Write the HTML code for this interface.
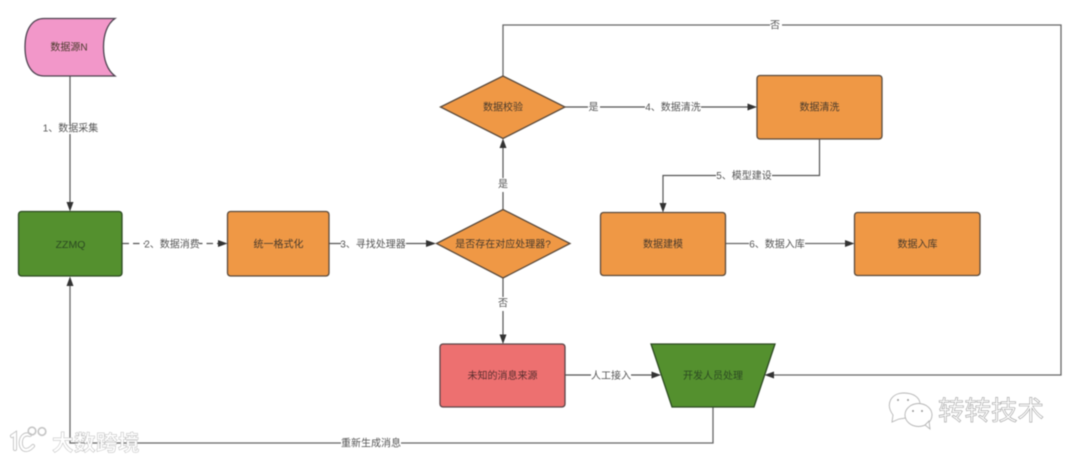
<!DOCTYPE html>
<html>
<head>
<meta charset="utf-8">
<style>
html,body{margin:0;padding:0;background:#fff;width:1080px;height:461px;overflow:hidden}
svg{display:block;filter:blur(.4px)}
text{font-family:"Liberation Sans","Noto Sans CJK SC",sans-serif;font-size:10px;text-anchor:middle;dominant-baseline:central}
.n{fill:#4a3b2c}
.l{fill:#555}
.s{fill:#ef9845;stroke:#5a4a3c;stroke-width:1.3}
.e{fill:none;stroke:#555;stroke-width:1.2}
.a{fill:#333;stroke:none}
.b{fill:#fff;stroke:none}
</style>
</head>
<body>
<svg width="1080" height="461" viewBox="0 0 1080 461" xmlns="http://www.w3.org/2000/svg">
<rect width="1080" height="461" fill="#fff"/>

<!-- connectors -->
<path class="e" d="M70 76V205"/>
<path class="e" d="M122.500 243.500H219" stroke-dasharray="6.500 4"/>
<path class="e" d="M329 243.500H430" style="stroke-width:1.3"/>
<path class="e" d="M503 209V144"/>
<path class="e" d="M565 107H751"/>
<path class="e" d="M503 76V25H1061V375H771" style="stroke:#666;stroke-width:1.3"/>
<path class="e" d="M819.500 139V175.500H663V206"/>
<path class="e" d="M725 243.500H849" style="stroke:#666;stroke-width:1.3"/>
<path class="e" d="M503 278V338"/>
<path class="e" d="M565 375H657"/>
<path class="e" d="M713 407V443H70V282" style="stroke:#666;stroke-width:1.3"/>

<!-- arrowheads -->
<path class="a" d="M70 211.500L66.500 202H73.500Z"/>
<path class="a" d="M227.500 243.500L218 240V247Z"/>
<path class="a" d="M436 243.500L426 240V247Z"/>
<path class="a" d="M503 138.500L499.500 148H506.500Z"/>
<path class="a" d="M757 107L747.500 103.500V110.500Z"/>
<path class="a" d="M663 212.500L659.500 203H666.500Z"/>
<path class="a" d="M854.500 243.500L845 240V247Z"/>
<path class="a" d="M503 344L499.500 334.500H506.500Z"/>
<path class="a" d="M661 375L651.500 371.500V378.500Z"/>
<path class="a" d="M764.500 375L774 371.500V378.500Z"/>
<path class="a" d="M70 276.500L66.500 286H73.500Z"/>

<!-- shapes -->
<path d="M25 47C25 28 33 18.500 44 18.500H115C107 24 103.500 35 103.500 47C103.500 59 107 70 115 76H44C33 76 25 66 25 47Z" fill="#f297c9" stroke="#4d4350" stroke-width="1.3"/>
<rect x="18.500" y="211.500" width="103.500" height="64.500" rx="3" fill="#54902e" stroke="#2c4a22" stroke-width="1.3"/>
<rect class="s" x="227.500" y="211.500" width="101.500" height="64.500" rx="3"/>
<path class="s" d="M436.500 243.500L503 209.500L570 243.500L503 278Z"/>
<path class="s" d="M440.500 107L503 76L565 107L503 138.500Z"/>
<rect class="s" x="757" y="75.500" width="125" height="63.500" rx="3"/>
<rect class="s" x="600.500" y="212.500" width="125" height="63" rx="3"/>
<rect class="s" x="854.500" y="212.500" width="125.500" height="63" rx="3"/>
<rect x="440" y="344" width="125" height="63" rx="3" fill="#ed7070" stroke="#5a4548" stroke-width="1.3"/>
<path d="M651 344H775L754 407H672Z" fill="#54902e" stroke="#2c4a22" stroke-width="1.3"/>

<!-- node text -->
<text class="n" x="69" y="48">数据源N</text>
<text x="70.500" y="245" fill="#2c4a22" style="font-size:10.500px">ZZMQ</text>
<text class="n" x="278.500" y="245">统一格式化</text>
<text class="n" x="503" y="245">是否存在对应处理器?</text>
<text class="n" x="503" y="108">数据校验</text>
<text class="n" x="819.500" y="108">数据清洗</text>
<text class="n" x="663" y="245">数据建模</text>
<text class="n" x="917.500" y="245">数据入库</text>
<text x="502.500" y="376.500" fill="#5a2f2f">未知的消息来源</text>
<text x="713" y="376.500" fill="#2c4a22">开发人员处理</text>

<!-- edge labels -->
<rect class="b" x="43" y="124" width="55" height="10"/><text class="l" x="70.500" y="129">1、数据采集</text>
<rect class="b" x="145" y="238" width="54" height="12"/><text class="l" x="172" y="245">2、数据消费</text>
<rect class="b" x="341" y="238" width="65" height="12"/><text class="l" x="373" y="245">3、寻找处理器</text>
<rect class="b" x="497" y="178" width="12" height="14"/><text class="l" x="503" y="185">是</text>
<rect class="b" x="588" y="101" width="12" height="12"/><text class="l" x="593.500" y="108">是</text>
<rect class="b" x="645" y="101" width="56" height="12"/><text class="l" x="673" y="108">4、数据清洗</text>
<rect class="b" x="770" y="20" width="12" height="12"/><text class="l" x="775" y="26">否</text>
<rect class="b" x="716" y="170" width="56" height="12"/><text class="l" x="744" y="176.500">5、模型建设</text>
<rect class="b" x="749" y="238" width="56" height="12"/><text class="l" x="777" y="245">6、数据入库</text>
<rect class="b" x="497" y="297" width="12" height="14"/><text class="l" x="503" y="304">否</text>
<rect class="b" x="591" y="370" width="40" height="12"/><text class="l" x="611" y="376.500">人工接入</text>
<rect class="b" x="341" y="438" width="60" height="12"/><text class="l" x="371" y="444">重新生成消息</text>

<!-- watermark left -->
<g fill="none" stroke-linecap="round">
<path d="M12 436L15 434V449" stroke="#bdbdbd" stroke-width="4"/>
<path d="M12 436L15 434V449" stroke="#fff" stroke-width="2.400"/>
<path d="M30 435C19 431 18 450 26 450C29 450 31 448 33 446" stroke="#bdbdbd" stroke-width="4"/>
<path d="M30 435C19 431 18 450 26 450C29 450 31 448 33 446" stroke="#fff" stroke-width="2.400"/>
<circle cx="32" cy="431" r="3.800" stroke="#c4c4c4" stroke-width="1.600"/>
<circle cx="42" cy="431.500" r="3.800" stroke="#c4c4c4" stroke-width="1.600"/>
</g>
<text x="96" y="443.500" fill="#fff" stroke="#bcbcbc" stroke-width=".5" style="font-size:21.500px;font-weight:bold;letter-spacing:.5px">大数跨境</text>

<!-- watermark right -->
<g fill="#fff" stroke="#b5b5b5" stroke-width=".9">
<path d="M893 415C885 404 891 393 904 393C914 393 920 398 920 404L906 418L899 419L892 422Z"/>
<ellipse cx="918.500" cy="415" rx="13.500" ry="11.500"/>
<path d="M925 425L930 429L929 421Z"/>
</g>
<g fill="#999">
<circle cx="898" cy="400" r="1"/><circle cx="908" cy="400" r="1"/>
<circle cx="913" cy="411" r="1"/><circle cx="922" cy="411" r="1"/>
</g>
<text x="991" y="411" fill="#fff" stroke="#a0a0a0" stroke-width=".6" style="font-size:26.500px">转转技术</text>
</svg>
</body>
</html>
